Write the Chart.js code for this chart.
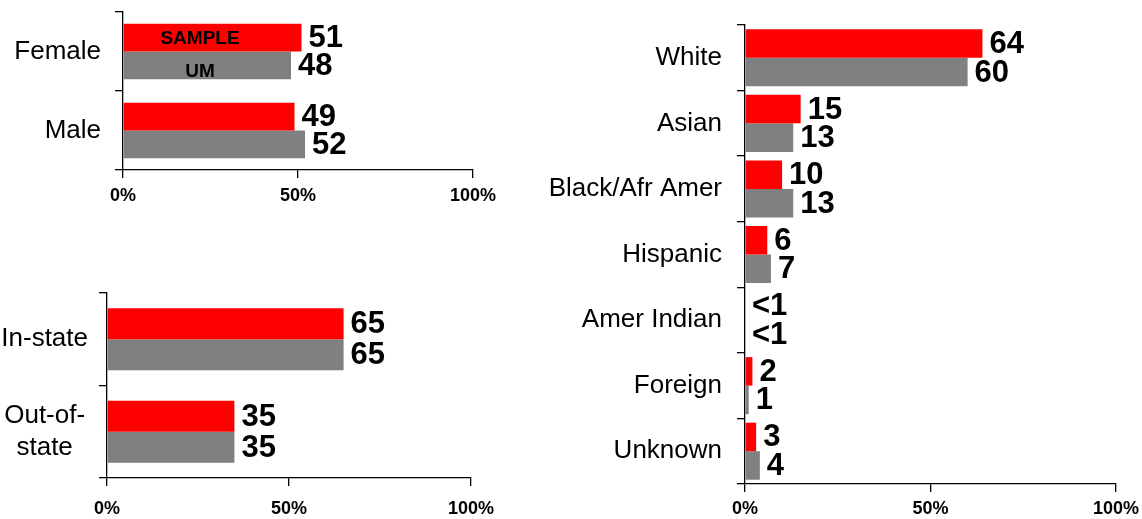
<!DOCTYPE html>
<html>
<head>
<meta charset="utf-8">
<script src="https://cdn.jsdelivr.net/npm/chart.js@4/dist/chart.umd.min.js"></script>
<style>
  body { margin: 0; background: #fff; }
  #wrap { position: relative; width: 1142px; height: 519px; overflow: hidden; }
  canvas { position: absolute; }
</style>
</head>
<body>
<div id="wrap">
  <canvas id="gender" width="520" height="215" style="left:0;top:0"></canvas>
  <canvas id="residency" width="520" height="239" style="left:0;top:280px"></canvas>
  <canvas id="race" width="602" height="519" style="left:540px;top:0"></canvas>
</div>
<script>
const seriesNames = ["SAMPLE", "UM"];
const seriesColors = ["#ff0000", "#808080"];

const genderCats = ["Female", "Male"];
const genderSample = [51, 49];
const genderUM = [48, 52];

const residencyCats = ["In-state", ["Out-of-", "state"]];
const residencySample = [65, 35];
const residencyUM = [65, 35];

const raceCats = ["White", "Asian", "Black/Afr Amer", "Hispanic", "Amer Indian", "Foreign", "Unknown"];
const raceSample = [64, 15, 10, 6, 0, 2, 3];
const raceUM = [60, 13, 13, 7, 0, 1, 4];

const xTicks = [0, 50, 100];

const FONT = "'Liberation Sans', Arial, sans-serif";
Chart.defaults.font.family = FONT;
Chart.defaults.color = "#000";

// numbers at the end of each bar
const valueLabels = {
    id: "valueLabels",
    afterDatasetsDraw(chart, args, opts) {
        const ctx = chart.ctx;
        ctx.save();
        ctx.font = "bold " + opts.size + "px " + FONT;
        ctx.fillStyle = "#000";
        ctx.textBaseline = "middle";
        ctx.textAlign = "left";
        chart.data.datasets.forEach((ds, i) => {
            chart.getDatasetMeta(i).data.forEach((bar, j) => {
                const v = ds.data[j];
                ctx.fillText(v < 1 ? "<1" : String(v), bar.x + opts.offset, bar.y + 1);
            });
        });
        ctx.restore();
    }
};

// series names written inside the first pair of bars
const barLegend = {
    id: "barLegend",
    afterDatasetsDraw(chart, args, opts) {
        if (!opts.show) return;
        const ctx = chart.ctx;
        const x = chart.scales.x.getPixelForValue(opts.at);
        ctx.save();
        ctx.font = "bold 19px " + FONT;
        ctx.fillStyle = "#000";
        ctx.textBaseline = "middle";
        ctx.textAlign = "center";
        chart.data.datasets.forEach((ds, i) => {
            const bar = chart.getDatasetMeta(i).data[0];
            ctx.fillText(ds.label, x, bar.y + (i === 0 ? 1 : 6));
        });
        ctx.restore();
    }
};

function renderPanel(canvasId, cats, sample, um, cfg) {
    const ctx = document.getElementById(canvasId);
    return new Chart(ctx, {
        type: "bar",
        data: {
            labels: cats,
            datasets: [
                {
                    label: seriesNames[0],
                    data: sample,
                    backgroundColor: seriesColors[0],
                    categoryPercentage: cfg.catPct,
                    barPercentage: 1.0,
                },
                {
                    label: seriesNames[1],
                    data: um,
                    backgroundColor: seriesColors[1],
                    categoryPercentage: cfg.catPct,
                    barPercentage: 1.0,
                },
            ],
        },
        options: {
            indexAxis: "y",
            responsive: false,
            animation: false,
            devicePixelRatio: 1,
            layout: {
                padding: { top: cfg.top, right: cfg.right, left: 0, bottom: 0 },
            },
            scales: {
                x: {
                    min: 0,
                    max: 100,
                    afterBuildTicks: (scale) => {
                        scale.ticks = xTicks.map((v) => ({ value: v }));
                    },
                    afterFit: (scale) => {
                        scale.height = cfg.xHeight;
                        scale.paddingLeft = 0;
                        scale.paddingRight = 0;
                    },
                    border: { display: true, color: "#000", width: 1.3 },
                    grid: { drawOnChartArea: false, drawTicks: true, tickLength: 8, color: "#000", lineWidth: 1.3 },
                    ticks: {
                        callback: (v) => v + "%",
                        font: { size: 18, weight: "bold" },
                        padding: cfg.xPad,
                        maxRotation: 0,
                    },
                },
                y: {
                    afterFit: (scale) => {
                        scale.width = cfg.yWidth;
                        scale.paddingTop = 0;
                        scale.paddingBottom = 0;
                    },
                    border: { display: true, color: "#000", width: 1.3 },
                    grid: { drawOnChartArea: false, drawTicks: true, tickLength: 8, color: "#000", lineWidth: 1.3, offset: true },
                    ticks: {
                        font: { size: 26, lineHeight: 1.2 },
                        padding: cfg.yPad,
                        crossAlign: cfg.crossAlign || "near",
                    },
                },
            },
            plugins: {
                legend: { display: false },
                tooltip: { enabled: false },
                valueLabels: { size: cfg.valSize, offset: 7 },
                barLegend: { show: !!cfg.inBarLegend, at: 22 },
            },
        },
        plugins: [valueLabels, barLegend],
    });
}

renderPanel("gender", genderCats, genderSample, genderUM, {
    catPct: 0.7, top: 12, right: 47, xHeight: 45, yWidth: 123, xPad: 7, yPad: 14, valSize: 31, inBarLegend: true,
});

renderPanel("residency", residencyCats, residencySample, residencyUM, {
    catPct: 0.67, top: 13, right: 49, xHeight: 41, yWidth: 107, xPad: 12, yPad: 11, valSize: 31, crossAlign: "center",
});

renderPanel("race", raceCats, raceSample, raceUM, {
    catPct: 0.87, top: 25, right: 26, xHeight: 35, yWidth: 205, xPad: 6, yPad: 15, valSize: 31,
});
</script>
</body>
</html>
